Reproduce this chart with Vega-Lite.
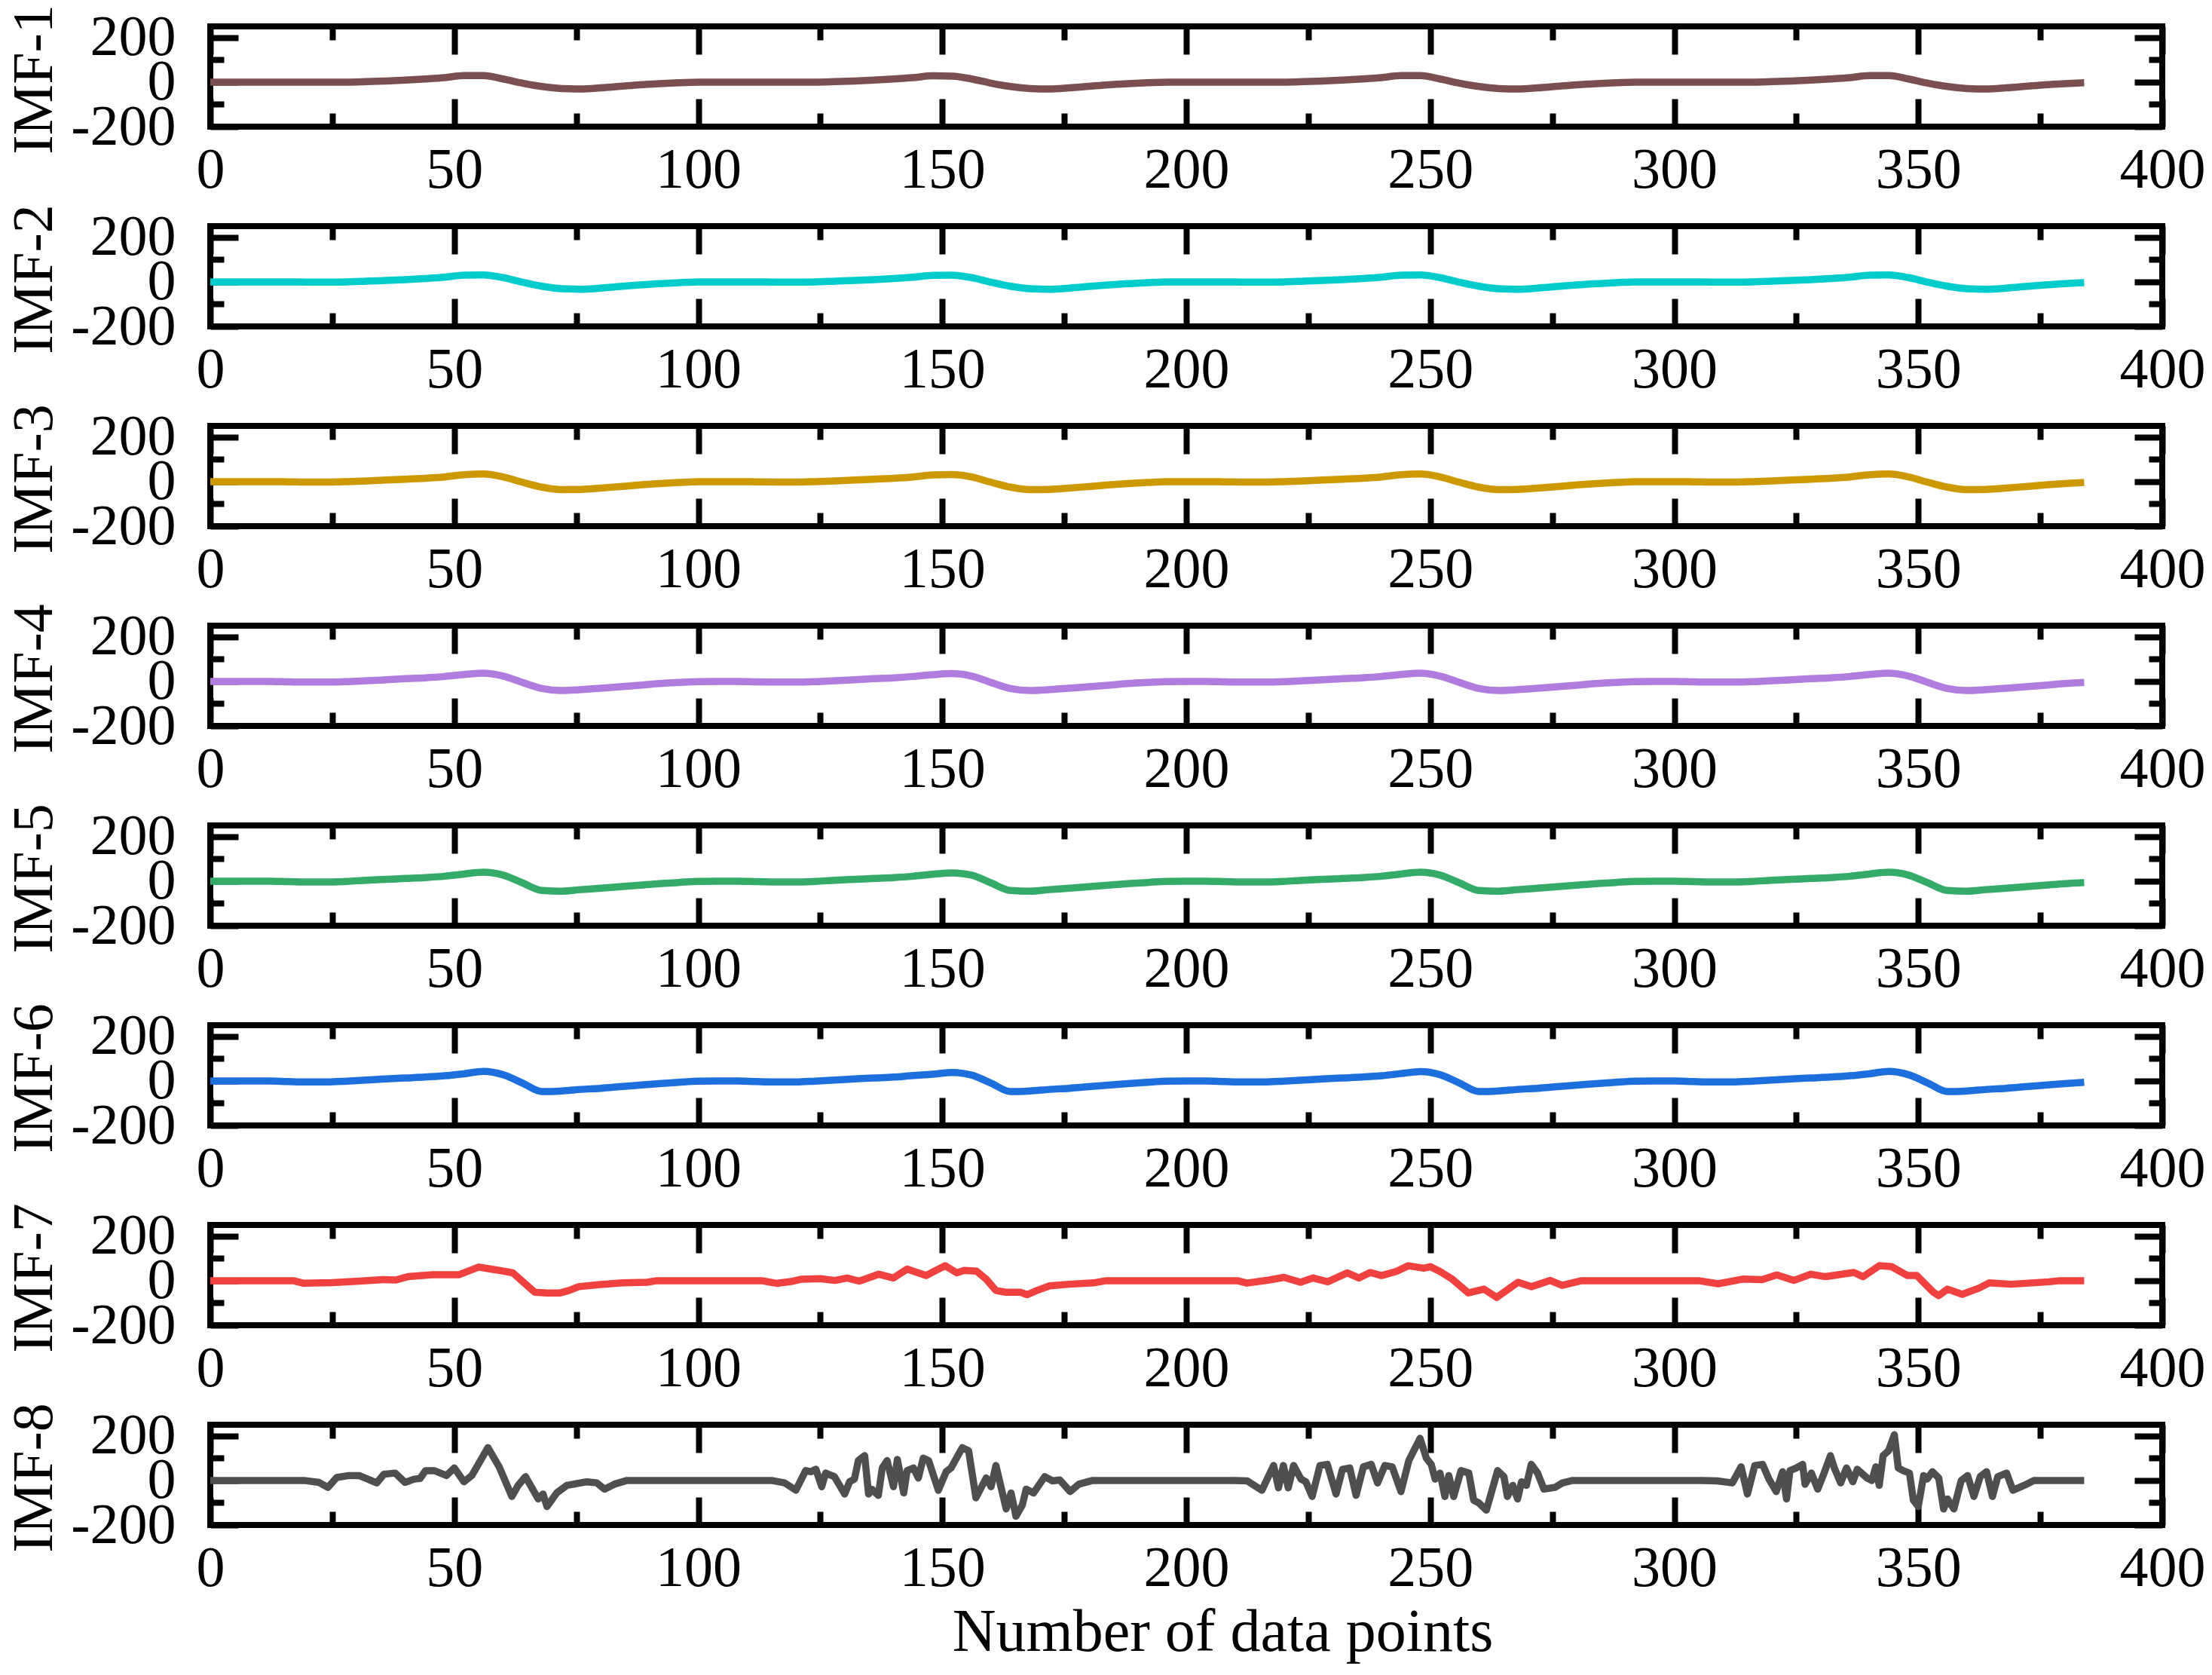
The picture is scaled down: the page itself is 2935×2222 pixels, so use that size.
{
  "$schema": "https://vega.github.io/schema/vega-lite/v6.json",
  "background": "white",
  "padding": {"left": 3, "top": 1, "right": 5, "bottom": 5},
  "bounds": "flush",
  "spacing": 132,
  "datasets": {
    "smooth": [
      {"x":0,"i1":0,"i2":0,"i3":0,"i4":0,"i5":0,"i6":0},
      {"x":4,"i1":0,"i2":0,"i3":0,"i4":0,"i5":0,"i6":0},
      {"x":8,"i1":0,"i2":0,"i3":0,"i4":0,"i5":0,"i6":0},
      {"x":12,"i1":0,"i2":0,"i3":0,"i4":0,"i5":0,"i6":0},
      {"x":16,"i1":0,"i2":0,"i3":-1,"i4":-2,"i5":-2,"i6":-3},
      {"x":20,"i1":0,"i2":-1,"i3":-2,"i4":-3,"i5":-4,"i6":-5},
      {"x":24,"i1":0,"i2":-1,"i3":-2,"i4":-3,"i5":-4,"i6":-5},
      {"x":28,"i1":0,"i2":0,"i3":0,"i4":-1,"i5":-1,"i6":-1},
      {"x":32,"i1":2,"i2":3,"i3":3,"i4":3,"i5":4,"i6":4},
      {"x":36,"i1":5,"i2":6,"i3":7,"i4":7,"i5":8,"i6":9},
      {"x":40,"i1":9,"i2":10,"i3":11,"i4":12,"i5":12,"i6":13},
      {"x":44,"i1":14,"i2":15,"i3":15,"i4":16,"i5":16,"i6":17},
      {"x":48,"i1":20,"i2":21,"i3":21,"i4":22,"i5":22,"i6":23},
      {"x":52,"i1":29,"i2":30,"i3":31,"i4":31,"i5":32,"i6":32},
      {"x":56,"i1":29,"i2":31,"i3":34,"i4":37,"i5":40,"i6":43},
      {"x":60,"i1":14,"i2":19,"i3":21,"i4":24,"i5":27,"i6":28},
      {"x":64,"i1":-5,"i2":-2,"i3":-3,"i4":-5,"i5":-8,"i6":-10},
      {"x":68,"i1":-20,"i2":-20,"i3":-25,"i4":-32,"i5":-42,"i6":-48},
      {"x":72,"i1":-29,"i2":-31,"i3":-36,"i4":-41,"i5":-45,"i6":-45},
      {"x":76,"i1":-31,"i2":-33,"i3":-35,"i4":-37,"i5":-38,"i6":-38},
      {"x":80,"i1":-26,"i2":-28,"i3":-29,"i4":-31,"i5":-32,"i6":-33},
      {"x":84,"i1":-19,"i2":-21,"i3":-22,"i4":-24,"i5":-25,"i6":-26},
      {"x":88,"i1":-12,"i2":-14,"i3":-15,"i4":-17,"i5":-18,"i6":-19},
      {"x":92,"i1":-7,"i2":-8,"i3":-9,"i4":-10,"i5":-11,"i6":-12},
      {"x":96,"i1":-3,"i2":-4,"i3":-4,"i4":-5,"i5":-6,"i6":-6},
      {"x":100,"i1":0,"i2":0,"i3":0,"i4":-1,"i5":-1,"i6":-1},
      {"x":104,"i1":0,"i2":0,"i3":0,"i4":0,"i5":0,"i6":0},
      {"x":108,"i1":0,"i2":0,"i3":0,"i4":0,"i5":0,"i6":0},
      {"x":112,"i1":0,"i2":0,"i3":-1,"i4":-2,"i5":-2,"i6":-3},
      {"x":116,"i1":0,"i2":-1,"i3":-2,"i4":-3,"i5":-4,"i6":-5},
      {"x":120,"i1":0,"i2":-1,"i3":-2,"i4":-3,"i5":-4,"i6":-5},
      {"x":124,"i1":0,"i2":0,"i3":0,"i4":-1,"i5":-1,"i6":-1},
      {"x":128,"i1":2,"i2":3,"i3":3,"i4":3,"i5":4,"i6":4},
      {"x":132,"i1":5,"i2":6,"i3":7,"i4":7,"i5":8,"i6":9},
      {"x":136,"i1":9,"i2":10,"i3":11,"i4":12,"i5":12,"i6":13},
      {"x":140,"i1":14,"i2":15,"i3":15,"i4":16,"i5":16,"i6":17},
      {"x":144,"i1":20,"i2":21,"i3":21,"i4":22,"i5":22,"i6":24},
      {"x":148,"i1":28,"i2":29,"i3":30,"i4":30,"i5":31,"i6":30},
      {"x":152,"i1":27,"i2":30,"i3":32,"i4":35,"i5":37,"i6":38},
      {"x":156,"i1":14,"i2":19,"i3":21,"i4":24,"i5":27,"i6":26},
      {"x":160,"i1":-5,"i2":-2,"i3":-3,"i4":-5,"i5":-8,"i6":-10},
      {"x":164,"i1":-20,"i2":-20,"i3":-25,"i4":-32,"i5":-42,"i6":-48},
      {"x":168,"i1":-29,"i2":-31,"i3":-36,"i4":-41,"i5":-45,"i6":-45},
      {"x":172,"i1":-31,"i2":-33,"i3":-35,"i4":-37,"i5":-38,"i6":-38},
      {"x":176,"i1":-26,"i2":-28,"i3":-29,"i4":-31,"i5":-32,"i6":-33},
      {"x":180,"i1":-19,"i2":-21,"i3":-22,"i4":-24,"i5":-25,"i6":-26},
      {"x":184,"i1":-12,"i2":-14,"i3":-15,"i4":-17,"i5":-18,"i6":-19},
      {"x":188,"i1":-7,"i2":-8,"i3":-9,"i4":-10,"i5":-11,"i6":-12},
      {"x":192,"i1":-3,"i2":-4,"i3":-4,"i4":-5,"i5":-6,"i6":-6},
      {"x":196,"i1":0,"i2":0,"i3":0,"i4":-1,"i5":-1,"i6":-1},
      {"x":200,"i1":0,"i2":0,"i3":0,"i4":0,"i5":0,"i6":0},
      {"x":204,"i1":0,"i2":0,"i3":0,"i4":0,"i5":0,"i6":0},
      {"x":208,"i1":0,"i2":0,"i3":-1,"i4":-2,"i5":-2,"i6":-3},
      {"x":212,"i1":0,"i2":-1,"i3":-2,"i4":-3,"i5":-4,"i6":-5},
      {"x":216,"i1":0,"i2":-1,"i3":-2,"i4":-3,"i5":-4,"i6":-5},
      {"x":220,"i1":0,"i2":0,"i3":0,"i4":-1,"i5":-1,"i6":-1},
      {"x":224,"i1":2,"i2":3,"i3":3,"i4":3,"i5":4,"i6":4},
      {"x":228,"i1":5,"i2":6,"i3":7,"i4":7,"i5":8,"i6":9},
      {"x":232,"i1":9,"i2":10,"i3":11,"i4":12,"i5":12,"i6":13},
      {"x":236,"i1":14,"i2":15,"i3":15,"i4":16,"i5":16,"i6":17},
      {"x":240,"i1":20,"i2":21,"i3":21,"i4":22,"i5":22,"i6":23},
      {"x":244,"i1":29,"i2":30,"i3":31,"i4":31,"i5":32,"i6":33},
      {"x":248,"i1":29,"i2":31,"i3":34,"i4":37,"i5":40,"i6":42},
      {"x":252,"i1":14,"i2":19,"i3":21,"i4":24,"i5":27,"i6":28},
      {"x":256,"i1":-5,"i2":-2,"i3":-3,"i4":-5,"i5":-8,"i6":-10},
      {"x":260,"i1":-20,"i2":-20,"i3":-25,"i4":-32,"i5":-42,"i6":-48},
      {"x":264,"i1":-29,"i2":-31,"i3":-36,"i4":-41,"i5":-45,"i6":-45},
      {"x":268,"i1":-31,"i2":-33,"i3":-35,"i4":-37,"i5":-38,"i6":-38},
      {"x":272,"i1":-26,"i2":-28,"i3":-29,"i4":-31,"i5":-32,"i6":-33},
      {"x":276,"i1":-19,"i2":-21,"i3":-22,"i4":-24,"i5":-25,"i6":-26},
      {"x":280,"i1":-12,"i2":-14,"i3":-15,"i4":-17,"i5":-18,"i6":-19},
      {"x":284,"i1":-7,"i2":-8,"i3":-9,"i4":-10,"i5":-11,"i6":-12},
      {"x":288,"i1":-3,"i2":-4,"i3":-4,"i4":-5,"i5":-6,"i6":-6},
      {"x":292,"i1":0,"i2":0,"i3":0,"i4":-1,"i5":-1,"i6":-1},
      {"x":296,"i1":0,"i2":0,"i3":0,"i4":0,"i5":0,"i6":0},
      {"x":300,"i1":0,"i2":0,"i3":0,"i4":0,"i5":0,"i6":0},
      {"x":304,"i1":0,"i2":0,"i3":-1,"i4":-2,"i5":-2,"i6":-3},
      {"x":308,"i1":0,"i2":-1,"i3":-2,"i4":-3,"i5":-4,"i6":-5},
      {"x":312,"i1":0,"i2":-1,"i3":-2,"i4":-3,"i5":-4,"i6":-5},
      {"x":316,"i1":0,"i2":0,"i3":0,"i4":-1,"i5":-1,"i6":-1},
      {"x":320,"i1":2,"i2":3,"i3":3,"i4":3,"i5":4,"i6":4},
      {"x":324,"i1":5,"i2":6,"i3":7,"i4":7,"i5":8,"i6":9},
      {"x":328,"i1":9,"i2":10,"i3":11,"i4":12,"i5":12,"i6":13},
      {"x":332,"i1":14,"i2":15,"i3":15,"i4":16,"i5":16,"i6":17},
      {"x":336,"i1":20,"i2":21,"i3":21,"i4":22,"i5":22,"i6":23},
      {"x":340,"i1":29,"i2":30,"i3":31,"i4":31,"i5":32,"i6":32},
      {"x":344,"i1":29,"i2":31,"i3":34,"i4":37,"i5":40,"i6":43},
      {"x":348,"i1":14,"i2":19,"i3":21,"i4":24,"i5":27,"i6":28},
      {"x":352,"i1":-5,"i2":-2,"i3":-3,"i4":-5,"i5":-8,"i6":-10},
      {"x":356,"i1":-20,"i2":-20,"i3":-25,"i4":-32,"i5":-42,"i6":-48},
      {"x":360,"i1":-29,"i2":-31,"i3":-36,"i4":-41,"i5":-45,"i6":-45},
      {"x":364,"i1":-31,"i2":-33,"i3":-35,"i4":-37,"i5":-38,"i6":-38},
      {"x":368,"i1":-26,"i2":-28,"i3":-29,"i4":-31,"i5":-32,"i6":-33},
      {"x":372,"i1":-19,"i2":-21,"i3":-22,"i4":-24,"i5":-25,"i6":-26},
      {"x":376,"i1":-12,"i2":-14,"i3":-15,"i4":-17,"i5":-18,"i6":-19},
      {"x":380,"i1":-7,"i2":-8,"i3":-9,"i4":-10,"i5":-11,"i6":-12},
      {"x":384,"i1":-3,"i2":-4,"i3":-4,"i4":-5,"i5":-6,"i6":-6}
    ],
    "imf7": [
      {"x":0,"y":0},{"x":17,"y":0},{"x":19,"y":-11},{"x":25,"y":-9},{"x":30.5,"y":-2},{"x":35.5,"y":5},{"x":38,"y":3},{"x":40.5,"y":18},{"x":45.5,"y":27},{"x":51,"y":27},{"x":55,"y":61},{"x":57.5,"y":52},{"x":60,"y":43},{"x":62,"y":35},{"x":65.2,"y":-27},{"x":66.5,"y":-52},{"x":69,"y":-55},{"x":71.7,"y":-55},{"x":73.5,"y":-44},{"x":75.5,"y":-27},{"x":79.5,"y":-18},{"x":84.5,"y":-10},{"x":89.5,"y":-7},{"x":91.5,"y":0},
      {"x":113,"y":0},{"x":116,"y":-12},{"x":119,"y":-4},{"x":121,"y":6},{"x":125,"y":9},{"x":128,"y":1},{"x":130.5,"y":12},{"x":133,"y":-2},{"x":137,"y":29},{"x":140,"y":12},{"x":142.8,"y":52},{"x":144.7,"y":38},{"x":146.7,"y":23},{"x":150.6,"y":67},{"x":153,"y":35},{"x":154.5,"y":46},{"x":157,"y":43},{"x":159,"y":7},{"x":161,"y":-44},{"x":163,"y":-52},{"x":166,"y":-52},{"x":167.4,"y":-63},{"x":169.4,"y":-44},{"x":172,"y":-23},{"x":176,"y":-16},{"x":181,"y":-10},{"x":183.6,"y":0},
      {"x":210.5,"y":0},{"x":212.4,"y":-11},{"x":217,"y":3},{"x":220,"y":15},{"x":223.4,"y":-7},{"x":226,"y":12},{"x":229,"y":-5},{"x":233,"y":35},{"x":235.4,"y":12},{"x":237.7,"y":37},{"x":240,"y":23},{"x":243,"y":41},{"x":245.5,"y":67},{"x":248.7,"y":56},{"x":250,"y":63},{"x":252,"y":41},{"x":254.5,"y":7},{"x":257.8,"y":-55},{"x":261,"y":-38},{"x":263.6,"y":-75},{"x":266,"y":-38},{"x":268,"y":-7},{"x":270.7,"y":-27},{"x":274.6,"y":1},{"x":277,"y":-21},{"x":281,"y":0},
      {"x":305,"y":0},{"x":309,"y":-14},{"x":314,"y":7},{"x":318,"y":5},{"x":321,"y":26},{"x":324.5,"y":1},{"x":328,"y":29},{"x":331,"y":18},{"x":336.8,"y":37},{"x":338.7,"y":18},{"x":342,"y":67},{"x":344.5,"y":63},{"x":347.8,"y":23},{"x":349.7,"y":23},{"x":353,"y":-50},{"x":354.2,"y":-67},{"x":356,"y":-38},{"x":359,"y":-61},{"x":362.5,"y":-33},{"x":364.5,"y":-10},{"x":369,"y":-16},{"x":376.8,"y":-5},{"x":379,"y":0},{"x":384,"y":0}
    ],
    "imf8": [
      {"x":0,"y":0},{"x":19.2,"y":0},{"x":22.3,"y":-9},{"x":24.1,"y":-31},{"x":25.9,"y":13},{"x":28.4,"y":22},{"x":30.5,"y":22},{"x":34.1,"y":-11},{"x":35.6,"y":28},{"x":37.9,"y":33},{"x":39.9,"y":-9},{"x":41.8,"y":6},{"x":43,"y":9},{"x":44.1,"y":44},{"x":45.9,"y":44},{"x":48.4,"y":22},{"x":50,"y":56},{"x":52,"y":-6},{"x":53.6,"y":22},{"x":56.9,"y":147},{"x":59.2,"y":61},{"x":61.8,"y":-72},{"x":63.1,"y":-22},{"x":64.6,"y":17},{"x":65.9,"y":-33},{"x":67.2,"y":-83},{"x":68.2,"y":-61},{"x":69,"y":-117},{"x":71,"y":-56},{"x":73.1,"y":-22},{"x":77.2,"y":-6},{"x":79.2,"y":-11},{"x":80.8,"y":-39},{"x":82.8,"y":-17},{"x":85.4,"y":0},
      {"x":115,"y":0},{"x":117.7,"y":-11},{"x":120,"y":-44},{"x":122,"y":44},{"x":123.1,"y":39},{"x":124.1,"y":50},{"x":125.3,"y":-28},{"x":126.1,"y":33},{"x":127.9,"y":17},{"x":130,"y":-61},{"x":131,"y":-6},{"x":132,"y":6},{"x":132.8,"y":89},{"x":134.1,"y":111},{"x":134.9,"y":-61},{"x":135.6,"y":-40},{"x":136.9,"y":-67},{"x":137.7,"y":56},{"x":138.7,"y":89},{"x":140,"y":-28},{"x":140.8,"y":94},{"x":142.1,"y":-56},{"x":142.8,"y":44},{"x":144.1,"y":56},{"x":145.1,"y":11},{"x":146.1,"y":100},{"x":147.2,"y":89},{"x":149.2,"y":-44},{"x":150.8,"y":39},{"x":151.8,"y":56},{"x":154.1,"y":147},{"x":155.4,"y":133},{"x":156.9,"y":-78},{"x":159,"y":11},{"x":160,"y":-28},{"x":161,"y":67},{"x":163.1,"y":-128},{"x":164.1,"y":-56},{"x":165.1,"y":-161},{"x":166.4,"y":-111},{"x":167.2,"y":-39},{"x":168.7,"y":-56},{"x":171,"y":17},{"x":172.6,"y":-2},{"x":174.1,"y":2},{"x":176.2,"y":-50},{"x":178,"y":-17},{"x":180.8,"y":0},
      {"x":209.9,"y":0},{"x":212.5,"y":-2},{"x":215.5,"y":-44},{"x":217.9,"y":67},{"x":218.9,"y":-33},{"x":219.9,"y":67},{"x":220.9,"y":-33},{"x":222,"y":67},{"x":223.5,"y":6},{"x":224.5,"y":-6},{"x":225.8,"y":-72},{"x":227.4,"y":67},{"x":228.9,"y":72},{"x":230.7,"y":-61},{"x":232,"y":50},{"x":233.5,"y":56},{"x":234.8,"y":-67},{"x":236.3,"y":61},{"x":237.9,"y":72},{"x":239.2,"y":-11},{"x":240.7,"y":67},{"x":242.2,"y":61},{"x":244,"y":-50},{"x":245.6,"y":89},{"x":247.9,"y":189},{"x":249.2,"y":100},{"x":250.2,"y":72},{"x":251,"y":6},{"x":252,"y":33},{"x":253,"y":-72},{"x":253.8,"y":22},{"x":254.8,"y":-72},{"x":256.3,"y":44},{"x":257.9,"y":33},{"x":258.9,"y":-89},{"x":259.9,"y":-100},{"x":261.5,"y":-133},{"x":263.8,"y":44},{"x":265.1,"y":17},{"x":265.8,"y":-72},{"x":266.9,"y":-22},{"x":267.9,"y":-83},{"x":268.7,"y":-6},{"x":269.7,"y":-22},{"x":270.7,"y":72},{"x":272,"y":33},{"x":273.3,"y":-39},{"x":275.6,"y":-31},{"x":277.1,"y":-11},{"x":279.2,"y":0},
      {"x":305.7,"y":0},{"x":308.8,"y":-2},{"x":311.9,"y":-11},{"x":313.7,"y":61},{"x":315,"y":-61},{"x":316.5,"y":67},{"x":318.1,"y":72},{"x":319.4,"y":6},{"x":320.9,"y":-50},{"x":322.2,"y":39},{"x":323,"y":-83},{"x":323.7,"y":44},{"x":325,"y":56},{"x":326.3,"y":72},{"x":326.8,"y":-17},{"x":328.1,"y":33},{"x":329.4,"y":-39},{"x":330.7,"y":33},{"x":332,"y":111},{"x":332.8,"y":56},{"x":334.1,"y":-11},{"x":335.3,"y":56},{"x":336.6,"y":-6},{"x":337.5,"y":50},{"x":339.5,"y":11},{"x":340.5,"y":0},{"x":341.3,"y":61},{"x":342,"y":-22},{"x":342.8,"y":111},{"x":343.9,"y":133},{"x":345.1,"y":205},{"x":345.9,"y":56},{"x":346.9,"y":44},{"x":348.2,"y":33},{"x":349,"y":-89},{"x":350,"y":-117},{"x":351.1,"y":22},{"x":351.8,"y":6},{"x":352.9,"y":39},{"x":354.2,"y":11},{"x":355.2,"y":-128},{"x":356,"y":-83},{"x":357.3,"y":-128},{"x":358.8,"y":0},{"x":360.1,"y":22},{"x":361.4,"y":-72},{"x":362.7,"y":17},{"x":364,"y":39},{"x":365.2,"y":-72},{"x":366.3,"y":17},{"x":368.1,"y":33},{"x":369.4,"y":-44},{"x":371.7,"y":-22},{"x":373.7,"y":0},{"x":384,"y":0}
    ]
  },
  "vconcat": [
    {
      "data": {"name": "smooth"},
      "width": 2590, "height": 133,
      "layer": [
        {
          "mark": {"type": "line", "color": "#7B4F4F", "strokeWidth": 9.5, "interpolate": "monotone", "strokeJoin": "round"},
          "encoding": {
            "x": {"field": "x", "type": "quantitative", "scale": {"domain": [0, 400], "nice": false},
              "axis": {"orient": "bottom", "values": [0,25,50,75,100,125,150,175,200,225,250,275,300,325,350,375,400], "labelExpr": "datum.value % 50 == 0 ? datum.label : ''", "tickSize": {"condition": {"test": "datum.value % 50 == 0", "value": -37}, "value": -18}, "title": null}},
            "y": {"field": "i1", "type": "quantitative", "scale": {"domain": [-200, 250], "nice": false},
              "axis": {"orient": "left", "values": [-200,-100,0,100,200], "labelExpr": "abs(datum.value) == 100 ? '' : toString(datum.value)", "tickSize": {"condition": {"test": "abs(datum.value) == 100", "value": -18}, "value": -37}, "title": "IMF-1"}}
          }
        },
        {
          "mark": {"type": "line", "opacity": 0},
          "encoding": {
            "x": {"field": "x", "type": "quantitative", "scale": {"domain": [0, 400], "nice": false},
              "axis": {"orient": "top", "values": [0,25,50,75,100,125,150,175,200,225,250,275,300,325,350,375,400], "labels": false, "tickSize": {"condition": {"test": "datum.value % 50 == 0", "value": -37}, "value": -18}, "title": null}},
            "y": {"field": "i1", "type": "quantitative", "scale": {"domain": [-200, 250], "nice": false},
              "axis": {"orient": "right", "values": [-200,-100,0,100,200], "labels": false, "tickSize": {"condition": {"test": "abs(datum.value) == 100", "value": -18}, "value": -37}, "title": null}}
          }
        }
      ],
      "resolve": {"axis": {"x": "independent", "y": "independent"}}
    },
    {
      "data": {"name": "smooth"},
      "width": 2590, "height": 133,
      "layer": [
        {
          "mark": {"type": "line", "color": "#00CCCC", "strokeWidth": 9.5, "interpolate": "monotone", "strokeJoin": "round"},
          "encoding": {
            "x": {"field": "x", "type": "quantitative", "scale": {"domain": [0, 400], "nice": false},
              "axis": {"orient": "bottom", "values": [0,25,50,75,100,125,150,175,200,225,250,275,300,325,350,375,400], "labelExpr": "datum.value % 50 == 0 ? datum.label : ''", "tickSize": {"condition": {"test": "datum.value % 50 == 0", "value": -37}, "value": -18}, "title": null}},
            "y": {"field": "i2", "type": "quantitative", "scale": {"domain": [-200, 250], "nice": false},
              "axis": {"orient": "left", "values": [-200,-100,0,100,200], "labelExpr": "abs(datum.value) == 100 ? '' : toString(datum.value)", "tickSize": {"condition": {"test": "abs(datum.value) == 100", "value": -18}, "value": -37}, "title": "IMF-2"}}
          }
        },
        {
          "mark": {"type": "line", "opacity": 0},
          "encoding": {
            "x": {"field": "x", "type": "quantitative", "scale": {"domain": [0, 400], "nice": false},
              "axis": {"orient": "top", "values": [0,25,50,75,100,125,150,175,200,225,250,275,300,325,350,375,400], "labels": false, "tickSize": {"condition": {"test": "datum.value % 50 == 0", "value": -37}, "value": -18}, "title": null}},
            "y": {"field": "i2", "type": "quantitative", "scale": {"domain": [-200, 250], "nice": false},
              "axis": {"orient": "right", "values": [-200,-100,0,100,200], "labels": false, "tickSize": {"condition": {"test": "abs(datum.value) == 100", "value": -18}, "value": -37}, "title": null}}
          }
        }
      ],
      "resolve": {"axis": {"x": "independent", "y": "independent"}}
    },
    {
      "data": {"name": "smooth"},
      "width": 2590, "height": 133,
      "layer": [
        {
          "mark": {"type": "line", "color": "#CC9900", "strokeWidth": 9.5, "interpolate": "monotone", "strokeJoin": "round"},
          "encoding": {
            "x": {"field": "x", "type": "quantitative", "scale": {"domain": [0, 400], "nice": false},
              "axis": {"orient": "bottom", "values": [0,25,50,75,100,125,150,175,200,225,250,275,300,325,350,375,400], "labelExpr": "datum.value % 50 == 0 ? datum.label : ''", "tickSize": {"condition": {"test": "datum.value % 50 == 0", "value": -37}, "value": -18}, "title": null}},
            "y": {"field": "i3", "type": "quantitative", "scale": {"domain": [-200, 250], "nice": false},
              "axis": {"orient": "left", "values": [-200,-100,0,100,200], "labelExpr": "abs(datum.value) == 100 ? '' : toString(datum.value)", "tickSize": {"condition": {"test": "abs(datum.value) == 100", "value": -18}, "value": -37}, "title": "IMF-3"}}
          }
        },
        {
          "mark": {"type": "line", "opacity": 0},
          "encoding": {
            "x": {"field": "x", "type": "quantitative", "scale": {"domain": [0, 400], "nice": false},
              "axis": {"orient": "top", "values": [0,25,50,75,100,125,150,175,200,225,250,275,300,325,350,375,400], "labels": false, "tickSize": {"condition": {"test": "datum.value % 50 == 0", "value": -37}, "value": -18}, "title": null}},
            "y": {"field": "i3", "type": "quantitative", "scale": {"domain": [-200, 250], "nice": false},
              "axis": {"orient": "right", "values": [-200,-100,0,100,200], "labels": false, "tickSize": {"condition": {"test": "abs(datum.value) == 100", "value": -18}, "value": -37}, "title": null}}
          }
        }
      ],
      "resolve": {"axis": {"x": "independent", "y": "independent"}}
    },
    {
      "data": {"name": "smooth"},
      "width": 2590, "height": 133,
      "layer": [
        {
          "mark": {"type": "line", "color": "#B07CDE", "strokeWidth": 9.5, "interpolate": "monotone", "strokeJoin": "round"},
          "encoding": {
            "x": {"field": "x", "type": "quantitative", "scale": {"domain": [0, 400], "nice": false},
              "axis": {"orient": "bottom", "values": [0,25,50,75,100,125,150,175,200,225,250,275,300,325,350,375,400], "labelExpr": "datum.value % 50 == 0 ? datum.label : ''", "tickSize": {"condition": {"test": "datum.value % 50 == 0", "value": -37}, "value": -18}, "title": null}},
            "y": {"field": "i4", "type": "quantitative", "scale": {"domain": [-200, 250], "nice": false},
              "axis": {"orient": "left", "values": [-200,-100,0,100,200], "labelExpr": "abs(datum.value) == 100 ? '' : toString(datum.value)", "tickSize": {"condition": {"test": "abs(datum.value) == 100", "value": -18}, "value": -37}, "title": "IMF-4"}}
          }
        },
        {
          "mark": {"type": "line", "opacity": 0},
          "encoding": {
            "x": {"field": "x", "type": "quantitative", "scale": {"domain": [0, 400], "nice": false},
              "axis": {"orient": "top", "values": [0,25,50,75,100,125,150,175,200,225,250,275,300,325,350,375,400], "labels": false, "tickSize": {"condition": {"test": "datum.value % 50 == 0", "value": -37}, "value": -18}, "title": null}},
            "y": {"field": "i4", "type": "quantitative", "scale": {"domain": [-200, 250], "nice": false},
              "axis": {"orient": "right", "values": [-200,-100,0,100,200], "labels": false, "tickSize": {"condition": {"test": "abs(datum.value) == 100", "value": -18}, "value": -37}, "title": null}}
          }
        }
      ],
      "resolve": {"axis": {"x": "independent", "y": "independent"}}
    },
    {
      "data": {"name": "smooth"},
      "width": 2590, "height": 133,
      "layer": [
        {
          "mark": {"type": "line", "color": "#35AB69", "strokeWidth": 9.5, "interpolate": "monotone", "strokeJoin": "round"},
          "encoding": {
            "x": {"field": "x", "type": "quantitative", "scale": {"domain": [0, 400], "nice": false},
              "axis": {"orient": "bottom", "values": [0,25,50,75,100,125,150,175,200,225,250,275,300,325,350,375,400], "labelExpr": "datum.value % 50 == 0 ? datum.label : ''", "tickSize": {"condition": {"test": "datum.value % 50 == 0", "value": -37}, "value": -18}, "title": null}},
            "y": {"field": "i5", "type": "quantitative", "scale": {"domain": [-200, 250], "nice": false},
              "axis": {"orient": "left", "values": [-200,-100,0,100,200], "labelExpr": "abs(datum.value) == 100 ? '' : toString(datum.value)", "tickSize": {"condition": {"test": "abs(datum.value) == 100", "value": -18}, "value": -37}, "title": "IMF-5"}}
          }
        },
        {
          "mark": {"type": "line", "opacity": 0},
          "encoding": {
            "x": {"field": "x", "type": "quantitative", "scale": {"domain": [0, 400], "nice": false},
              "axis": {"orient": "top", "values": [0,25,50,75,100,125,150,175,200,225,250,275,300,325,350,375,400], "labels": false, "tickSize": {"condition": {"test": "datum.value % 50 == 0", "value": -37}, "value": -18}, "title": null}},
            "y": {"field": "i5", "type": "quantitative", "scale": {"domain": [-200, 250], "nice": false},
              "axis": {"orient": "right", "values": [-200,-100,0,100,200], "labels": false, "tickSize": {"condition": {"test": "abs(datum.value) == 100", "value": -18}, "value": -37}, "title": null}}
          }
        }
      ],
      "resolve": {"axis": {"x": "independent", "y": "independent"}}
    },
    {
      "data": {"name": "smooth"},
      "width": 2590, "height": 133,
      "layer": [
        {
          "mark": {"type": "line", "color": "#1E6FDE", "strokeWidth": 9.5, "interpolate": "monotone", "strokeJoin": "round"},
          "encoding": {
            "x": {"field": "x", "type": "quantitative", "scale": {"domain": [0, 400], "nice": false},
              "axis": {"orient": "bottom", "values": [0,25,50,75,100,125,150,175,200,225,250,275,300,325,350,375,400], "labelExpr": "datum.value % 50 == 0 ? datum.label : ''", "tickSize": {"condition": {"test": "datum.value % 50 == 0", "value": -37}, "value": -18}, "title": null}},
            "y": {"field": "i6", "type": "quantitative", "scale": {"domain": [-200, 250], "nice": false},
              "axis": {"orient": "left", "values": [-200,-100,0,100,200], "labelExpr": "abs(datum.value) == 100 ? '' : toString(datum.value)", "tickSize": {"condition": {"test": "abs(datum.value) == 100", "value": -18}, "value": -37}, "title": "IMF-6"}}
          }
        },
        {
          "mark": {"type": "line", "opacity": 0},
          "encoding": {
            "x": {"field": "x", "type": "quantitative", "scale": {"domain": [0, 400], "nice": false},
              "axis": {"orient": "top", "values": [0,25,50,75,100,125,150,175,200,225,250,275,300,325,350,375,400], "labels": false, "tickSize": {"condition": {"test": "datum.value % 50 == 0", "value": -37}, "value": -18}, "title": null}},
            "y": {"field": "i6", "type": "quantitative", "scale": {"domain": [-200, 250], "nice": false},
              "axis": {"orient": "right", "values": [-200,-100,0,100,200], "labels": false, "tickSize": {"condition": {"test": "abs(datum.value) == 100", "value": -18}, "value": -37}, "title": null}}
          }
        }
      ],
      "resolve": {"axis": {"x": "independent", "y": "independent"}}
    },
    {
      "data": {"name": "imf7"},
      "width": 2590, "height": 133,
      "layer": [
        {
          "mark": {"type": "line", "color": "#F04141", "strokeWidth": 9.5, "strokeJoin": "round"},
          "encoding": {
            "x": {"field": "x", "type": "quantitative", "scale": {"domain": [0, 400], "nice": false},
              "axis": {"orient": "bottom", "values": [0,25,50,75,100,125,150,175,200,225,250,275,300,325,350,375,400], "labelExpr": "datum.value % 50 == 0 ? datum.label : ''", "tickSize": {"condition": {"test": "datum.value % 50 == 0", "value": -37}, "value": -18}, "title": null}},
            "y": {"field": "y", "type": "quantitative", "scale": {"domain": [-200, 250], "nice": false},
              "axis": {"orient": "left", "values": [-200,-100,0,100,200], "labelExpr": "abs(datum.value) == 100 ? '' : toString(datum.value)", "tickSize": {"condition": {"test": "abs(datum.value) == 100", "value": -18}, "value": -37}, "title": "IMF-7"}}
          }
        },
        {
          "mark": {"type": "line", "opacity": 0},
          "encoding": {
            "x": {"field": "x", "type": "quantitative", "scale": {"domain": [0, 400], "nice": false},
              "axis": {"orient": "top", "values": [0,25,50,75,100,125,150,175,200,225,250,275,300,325,350,375,400], "labels": false, "tickSize": {"condition": {"test": "datum.value % 50 == 0", "value": -37}, "value": -18}, "title": null}},
            "y": {"field": "y", "type": "quantitative", "scale": {"domain": [-200, 250], "nice": false},
              "axis": {"orient": "right", "values": [-200,-100,0,100,200], "labels": false, "tickSize": {"condition": {"test": "abs(datum.value) == 100", "value": -18}, "value": -37}, "title": null}}
          }
        }
      ],
      "resolve": {"axis": {"x": "independent", "y": "independent"}}
    },
    {
      "data": {"name": "imf8"},
      "width": 2590, "height": 133,
      "layer": [
        {
          "mark": {"type": "line", "color": "#4F4F4F", "strokeWidth": 9.5, "strokeJoin": "round"},
          "encoding": {
            "x": {"field": "x", "type": "quantitative", "scale": {"domain": [0, 400], "nice": false},
              "axis": {"orient": "bottom", "values": [0,25,50,75,100,125,150,175,200,225,250,275,300,325,350,375,400], "labelExpr": "datum.value % 50 == 0 ? datum.label : ''", "tickSize": {"condition": {"test": "datum.value % 50 == 0", "value": -37}, "value": -18}, "title": "Number of data points", "titleFontSize": 80, "titleX": 1343, "titleY": 166, "titleBaseline": "alphabetic", "titleAlign": "center"}},
            "y": {"field": "y", "type": "quantitative", "scale": {"domain": [-200, 250], "nice": false},
              "axis": {"orient": "left", "values": [-200,-100,0,100,200], "labelExpr": "abs(datum.value) == 100 ? '' : toString(datum.value)", "tickSize": {"condition": {"test": "abs(datum.value) == 100", "value": -18}, "value": -37}, "title": "IMF-8"}}
          }
        },
        {
          "mark": {"type": "line", "opacity": 0},
          "encoding": {
            "x": {"field": "x", "type": "quantitative", "scale": {"domain": [0, 400], "nice": false},
              "axis": {"orient": "top", "values": [0,25,50,75,100,125,150,175,200,225,250,275,300,325,350,375,400], "labels": false, "tickSize": {"condition": {"test": "datum.value % 50 == 0", "value": -37}, "value": -18}, "title": null}},
            "y": {"field": "y", "type": "quantitative", "scale": {"domain": [-200, 250], "nice": false},
              "axis": {"orient": "right", "values": [-200,-100,0,100,200], "labels": false, "tickSize": {"condition": {"test": "abs(datum.value) == 100", "value": -18}, "value": -37}, "title": null}}
          }
        }
      ],
      "resolve": {"axis": {"x": "independent", "y": "independent"}}
    }
  ],
  "config": {
    "font": "Liberation Serif",
    "view": {"stroke": "black", "strokeWidth": 8},
    "axis": {
      "domain": false,
      "grid": false,
      "tickColor": "black",
      "tickWidth": 8,
      "labelFont": "Liberation Serif",
      "labelFontSize": 76,
      "labelColor": "black",
      "labelFlush": false,
      "labelOverlap": false,
      "labelBound": false,
      "titleFont": "Liberation Serif",
      "titleFontSize": 76,
      "titleFontWeight": "normal",
      "titleColor": "black"
    },
    "axisBottom": {"labelPadding": 57},
    "axisLeft": {"labelPadding": 83, "titlePadding": 25, "titleBaseline": "alphabetic", "titleY": 70}
  }
}
